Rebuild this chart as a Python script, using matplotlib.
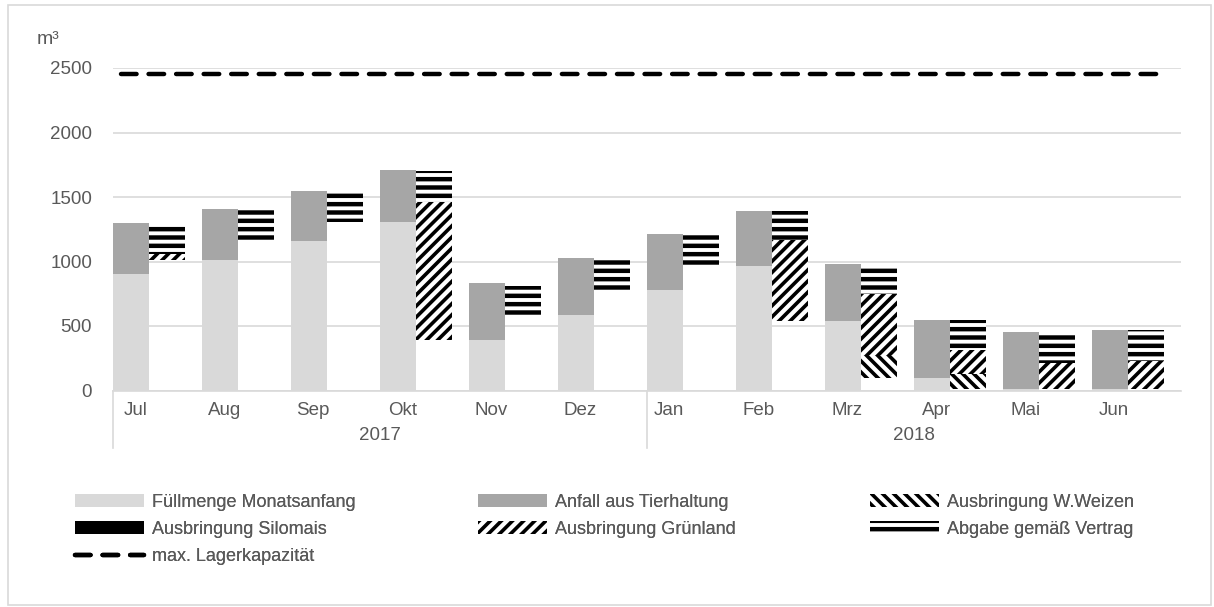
import matplotlib
matplotlib.use("Agg")
import matplotlib.pyplot as plt
import matplotlib.transforms as mtrans
from matplotlib.patches import Patch, Rectangle
from matplotlib.lines import Line2D
import numpy as np

plt.rcParams['font.family'] = ['Liberation Sans', 'DejaVu Sans']

# Daten (m³)
monate = ["Jul", "Aug", "Sep", "Okt", "Nov", "Dez",
          "Jan", "Feb", "Mrz", "Apr", "Mai", "Jun"]
jahre = ["2017", "2018"]

fuellmenge = [900, 1010, 1160, 1310, 395, 585, 780, 965, 540, 97, 10, 12]
anfall = [400, 395, 390, 400, 440, 440, 435, 430, 440, 450, 440, 455]

weizen = [0, 0, 0, 0, 0, 0, 0, 0, 173, 118, 0, 0]
silomais = [0, 0, 0, 0, 0, 0, 0, 0, 0, 0, 0, 0]
gruenland = [45, 0, 0, 1065, 0, 0, 0, 625, 475, 186, 200, 220]
abgabe = [230, 240, 235, 245, 225, 230, 240, 230, 230, 230, 238, 240]

endbestand_jun = 10
lagerkapazitaet = 2450

grau = "#595959"
fs = 13.5
diag_lw = 2.6
quer_lw = 3.2
muster_w = "\\\\\\"
muster_g = "///"

fig = plt.figure(figsize=(12.14, 6.07), dpi=100)
ax = fig.add_axes([113 / 1214, 1 - 390.5 / 607, 1068 / 1214, 322.5 / 607])

x = np.arange(len(monate))
w = 0.405

# Zufluss-Säule
ax.bar(x - 0.5, fuellmenge, w, align="edge", color="#d9d9d9", linewidth=0)
ax.bar(x - 0.5, anfall, w, bottom=fuellmenge, align="edge",
       color="#a6a6a6", linewidth=0)

# Abfluss-Säule (unsichtbare Basis = Füllmenge Folgemonat)
basis = np.array(fuellmenge[1:] + [endbestand_jun], dtype=float)
unten = basis.copy()
abfluss = [
    (weizen, "white", muster_w, diag_lw),
    (silomais, "black", None, diag_lw),
    (gruenland, "white", muster_g, diag_lw),
    (abgabe, "white", "--", quer_lw),
]
for werte, farbe, muster, hlw in abfluss:
    plt.rcParams['hatch.linewidth'] = hlw
    ax.bar(x - 0.5 + w, werte, w, bottom=unten, align="edge",
           color=farbe, edgecolor="black", hatch=muster, linewidth=0)
    unten = unten + np.array(werte)

# max. Lagerkapazität
ax.axhline(lagerkapazitaet, xmin=8 / 1068, xmax=1052 / 1068, color="black",
           lw=3.2, dashes=(3.5, 2.7), dash_capstyle="round")

ax.set_xlim(-0.5, 11.5)
ax.set_ylim(0, 2500)
ax.set_yticks(range(0, 2501, 500))
ax.tick_params(axis="y", length=0, pad=15, labelsize=fs, labelcolor=grau)
ax.set_xticks(x - 0.25)
ax.set_xticklabels(monate)
ax.tick_params(axis="x", length=0, pad=8, labelsize=fs, labelcolor=grau)

ax.grid(axis="y", color="#d9d9d9", lw=1.2)
ax.set_axisbelow(True)
for s in ["top", "right", "left"]:
    ax.spines[s].set_visible(False)
ax.spines["bottom"].set_color("#d9d9d9")
ax.spines["bottom"].set_linewidth(1.2)

# Jahres-Ebene der Kategorienachse
trans = mtrans.blended_transform_factory(ax.transData, ax.transAxes)
for i, jahr in enumerate(jahre):
    ax.text(2.5 + 6 * i, -0.14, jahr, transform=trans, ha="center",
            va="center", fontsize=fs, color=grau)
for xs in [-0.5, 5.5]:
    ax.plot([xs, xs], [0, -0.178], transform=trans, color="#d9d9d9",
            lw=1.2, clip_on=False)

fig.text(37 / 1214, 1 - 39 / 607, "m³", ha="left", va="center",
         fontsize=14, color=grau)

# Legende: drei Spalten, einzeln platziert
spalten = [
    (75, [Patch(facecolor="#d9d9d9", linewidth=0),
          Patch(facecolor="black", linewidth=0),
          Line2D([], [], color="black", lw=3.2, dashes=(3.5, 2.7),
                 dash_capstyle="round")],
     ["Füllmenge Monatsanfang", "Ausbringung Silomais",
      "max. Lagerkapazität"], [quer_lw, quer_lw, quer_lw]),
    (478, [Patch(facecolor="#a6a6a6", linewidth=0),
           Patch(facecolor="white", edgecolor="black", hatch=muster_g,
                 linewidth=0)],
     ["Anfall aus Tierhaltung", "Ausbringung Grünland"], [diag_lw, diag_lw]),
    (870, [Patch(facecolor="white", edgecolor="black", hatch=muster_w,
                 linewidth=0),
           Patch(facecolor="white", edgecolor="black", hatch="--",
                 linewidth=0)],
     ["Ausbringung W.Weizen", "Abgabe gemäß Vertrag"], [diag_lw, quer_lw]),
]
for xpos, h, l, hl in spalten:
    leg = fig.legend(h, l, loc="upper left",
                     bbox_to_anchor=(xpos / 1214, 1 - 494 / 607),
                     frameon=False, handlelength=3.8, handleheight=0.7,
                     handletextpad=0.45, labelspacing=0.55, borderpad=0,
                     borderaxespad=0, fontsize=13, labelcolor=grau)
    for patch, lw in zip(leg.legend_handles, hl):
        if hasattr(patch, "set_hatch_linewidth"):
            patch.set_hatch_linewidth(lw)
    fig.add_artist(leg)

fig.add_artist(Rectangle((8 / 1214, 2 / 607), 1203 / 1214, 600 / 607,
                         transform=fig.transFigure, fill=False,
                         edgecolor="#d9d9d9", lw=1.2))

fig.savefig("out.png", dpi=100)
